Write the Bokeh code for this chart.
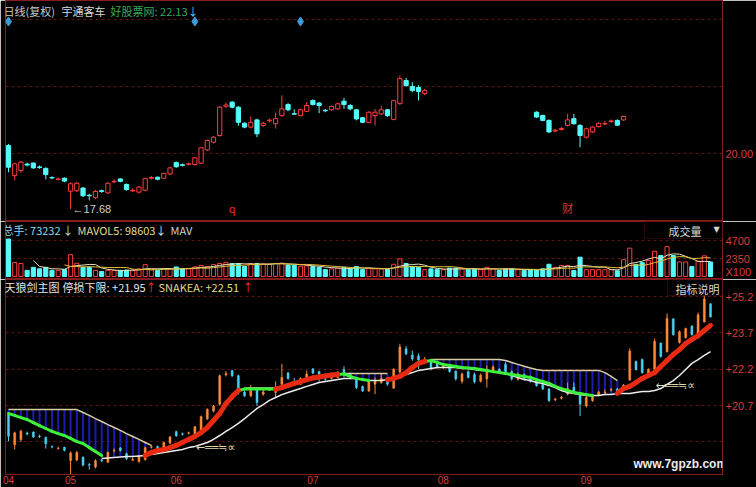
import pandas as pd
from bokeh.plotting import figure
from bokeh.layouts import column
from bokeh.models import (ColumnDataSource, Range1d, LinearAxis, FixedTicker,
                          CustomJSTickFormatter, Grid, Label, LabelSet, BoxAnnotation)
from bokeh.core.properties import value
from bokeh.embed import file_html
from bokeh.resources import INLINE

NaN = float("nan")

# ---------------- daily bars (宇通客车, 复权) ----------------
opens = [
    20.33, 19.08, 19.29, 19.56, 19.60, 19.44, 19.38, 19.00, 18.92, 18.97,
    18.43, 18.45, 18.56, 18.26, 18.16, 18.45, 18.36, 18.82, 18.94, 18.71,
    18.44, 18.39, 18.47, 18.97, 19.01, 18.97, 19.15, 19.62, 19.53, 19.55,
    19.54, 19.60, 20.15, 20.47, 20.75, 21.97, 22.14, 21.93, 21.26, 21.10,
    21.40, 21.17, 21.36, 21.24, 21.58, 22.04, 21.66, 21.58, 21.76, 22.21,
    22.10, 21.80, 21.82, 21.86, 22.18, 22.00, 21.82, 21.49, 21.30, 21.58,
    21.65, 21.82, 21.42, 22.08, 23.04, 22.79, 22.75, 22.50, 22.50, 22.42,
    22.26, 22.32, 22.12, 21.70, 22.10, 21.98, 21.70, 21.80, 22.10, 22.20,
    22.40, 22.10, 21.78, 21.98, 21.90, 21.72, 21.58, 21.38, 20.94, 21.00,
    21.17, 21.45, 21.17, 20.68, 20.90, 21.12, 21.23, 21.33, 21.38, 21.40,
    21.75, 22.52, 22.60, 21.98, 22.20, 23.28, 22.92, 24.28, 23.30, 23.50,
    23.98, 23.50, 24.15, 24.90]
highs = [
    20.40, 19.62, 19.70, 19.62, 19.63, 19.50, 19.42, 19.05, 19.00, 19.00,
    18.80, 18.82, 18.60, 18.32, 18.48, 18.50, 18.80, 18.92, 18.98, 18.75,
    18.55, 18.64, 19.00, 19.06, 19.04, 19.20, 19.45, 19.66, 19.58, 19.62,
    19.86, 20.28, 20.58, 20.72, 21.98, 22.12, 22.18, 21.98, 21.30, 21.54,
    21.45, 21.32, 21.45, 21.70, 22.42, 22.10, 21.84, 21.86, 22.14, 22.25,
    22.14, 21.85, 22.00, 22.12, 22.32, 22.06, 21.86, 21.52, 21.76, 21.86,
    22.00, 21.86, 22.24, 23.25, 23.15, 22.97, 22.85, 22.70, 22.56, 22.46,
    22.38, 22.36, 22.15, 22.06, 22.15, 22.06, 22.02, 22.35, 22.35, 22.23,
    22.48, 22.15, 22.06, 22.02, 21.94, 21.76, 21.62, 21.42, 21.02, 21.10,
    21.65, 21.65, 21.22, 21.08, 21.14, 21.30, 21.36, 21.42, 21.42, 21.58,
    23.06, 22.56, 22.64, 22.23, 23.47, 23.30, 24.50, 24.30, 23.80, 23.92,
    24.01, 24.54, 25.25, 24.92]
lows = [
    19.22, 18.88, 19.20, 19.46, 19.36, 19.36, 18.92, 18.93, 18.88, 18.80,
    17.68, 18.40, 18.18, 18.05, 18.10, 18.36, 18.32, 18.76, 18.80, 18.45,
    18.40, 18.33, 18.42, 18.92, 18.88, 18.92, 19.10, 19.40, 19.46, 19.50,
    19.50, 19.56, 20.10, 20.42, 20.70, 21.90, 21.88, 21.15, 21.05, 21.05,
    20.68, 21.10, 21.30, 21.04, 21.52, 21.76, 21.62, 21.55, 21.72, 22.00,
    21.68, 21.72, 21.78, 21.82, 21.86, 21.80, 21.38, 21.26, 21.26, 21.17,
    21.60, 21.52, 21.38, 22.02, 22.78, 22.55, 22.21, 22.42, 22.15, 22.22,
    22.22, 22.06, 21.73, 21.61, 21.82, 21.61, 21.65, 21.44, 22.06, 22.02,
    22.06, 21.73, 21.73, 21.73, 21.65, 21.48, 21.34, 20.85, 20.88, 20.95,
    21.12, 21.20, 20.26, 20.62, 20.85, 21.08, 21.18, 21.28, 21.14, 21.36,
    21.73, 22.15, 22.02, 21.94, 22.15, 22.68, 22.89, 23.59, 23.26, 23.47,
    23.59, 23.47, 24.13, 24.34]
closes = [
    19.43, 19.57, 19.64, 19.52, 19.40, 19.42, 19.12, 18.98, 18.94, 18.85,
    18.74, 18.76, 18.24, 18.24, 18.42, 18.42, 18.76, 18.84, 18.84, 18.50,
    18.47, 18.60, 18.95, 19.00, 18.93, 19.17, 19.40, 19.45, 19.51, 19.57,
    19.82, 20.24, 20.54, 20.68, 21.93, 22.02, 21.93, 21.30, 21.10, 21.30,
    20.82, 21.26, 21.39, 21.45, 21.86, 21.82, 21.64, 21.82, 22.00, 22.04,
    22.00, 21.78, 21.96, 22.07, 22.04, 21.86, 21.44, 21.30, 21.72, 21.72,
    21.82, 21.58, 22.20, 23.12, 22.83, 22.62, 22.58, 22.62, 22.25, 22.28,
    22.34, 22.10, 21.80, 22.00, 21.86, 21.68, 21.95, 22.20, 22.30, 22.05,
    22.10, 21.80, 22.00, 21.78, 21.70, 21.52, 21.38, 20.90, 20.97, 21.04,
    21.40, 21.24, 20.75, 21.03, 21.10, 21.26, 21.25, 21.36, 21.18, 21.54,
    22.95, 22.18, 22.05, 22.20, 23.35, 22.72, 24.30, 23.62, 23.75, 23.88,
    23.62, 24.45, 25.10, 24.36]
# volume, in units of 100 shares
volumes = [
    4900, 1830, 1700, 800, 1200, 1000, 1200, 800, 800, 900,
    2850, 1730, 1200, 1200, 800, 650, 800, 800, 800, 850,
    850, 1000, 1550, 850, 800, 1000, 1000, 1250, 1000, 1000,
    1250, 1450, 1300, 1550, 1700, 1850, 1700, 1700, 1300, 1700,
    1700, 1650, 1600, 1700, 1750, 1500, 1450, 1350, 1400, 1300,
    1200, 900, 1000, 1100, 1200, 1000, 1300, 900, 1100, 1000,
    950, 900, 1600, 2300, 1700, 1300, 1200, 900, 1000, 900,
    900, 1100, 1100, 1000, 900, 1000, 900, 1200, 1000, 800,
    1000, 1000, 900, 800, 850, 800, 1000, 1600, 1200, 1440,
    1440, 780, 2520, 900, 900, 900, 900, 900, 750, 2200,
    3700, 1580, 1800, 2100, 3300, 2740, 3900, 2740, 1900, 1900,
    1300, 2000, 2700, 1900]

# ---------------- 天狼剑 indicator lines ----------------
snake_line = [
    20.37, 20.29, 20.20, 20.12, 19.99, 19.87, 19.75, 19.63, 19.54, 19.46,
    19.34, 19.21, 19.13, 18.96, 18.80, 18.63, 18.53, 18.55, 18.57, 18.59,
    18.59, 18.61, 18.63, 18.76, 18.84, 18.88, 18.96, 19.05, 19.17, 19.30,
    19.42, 19.58, 19.79, 20.08, 20.37, 20.78, 21.07, 21.32, 21.38, 21.38,
    21.38, 21.38, 21.38, 21.38, 21.44, 21.53, 21.61, 21.69, 21.77, 21.84,
    21.88, 21.92, 21.96, 21.98, 22.00, 21.90, 21.82, 21.77, 21.73, 21.73,
    21.73, 21.77, 21.82, 21.90, 22.06, 22.27, 22.44, 22.52, 22.56, 22.48,
    22.39, 22.35, 22.31, 22.27, 22.25, 22.23, 22.19, 22.15, 22.10, 22.06,
    22.02, 21.98, 21.94, 21.90, 21.86, 21.77, 21.69, 21.61, 21.49, 21.40,
    21.32, 21.24, 21.20, 21.15, 21.11, 21.11, 21.15, 21.15, 21.20, 21.40,
    21.49, 21.65, 21.82, 21.94, 22.06, 22.31, 22.56, 22.81, 23.01, 23.26,
    23.43, 23.59, 23.80, 24.01]
# U = rising (red ribbon), D = falling (green), M = resting on the slow line
snake_phase = ("DDDDDDDDDDDDDDDD" "MMMMMMM" "UUUUUUUUUUUUUUU" "DDDDDD"
               "UUUUUUUUUU" "DDDDD" "MMM" "UUUUUU"
               "DDDDDDDDDDDDDDDDDDDDDDDDDDD" "MMMM" "UUUUUUUUUUUUUUU")
stop_upper = [
    20.53, 20.53, 20.53, 20.53, 20.53, 20.53, 20.53, 20.53, 20.53, 20.53,
    20.53, 20.53, 20.41, 20.29, 20.16, 20.04, 19.91, 19.79, 19.67, 19.54,
    19.42, 19.30, 19.17, 19.05, NaN, NaN, NaN, NaN, NaN, NaN,
    NaN, NaN, NaN, NaN, NaN, NaN, NaN, NaN, 21.42, 21.42,
    21.42, 21.42, 21.42, 21.42, NaN, NaN, NaN, NaN, NaN, NaN,
    NaN, NaN, NaN, NaN, 22.02, 22.02, 22.02, 22.02, 22.02, 22.02,
    22.02, 22.02, NaN, NaN, NaN, NaN, NaN, NaN, 22.60, 22.60,
    22.60, 22.60, 22.60, 22.60, 22.60, 22.60, 22.60, 22.60, 22.60, 22.60,
    22.56, 22.48, 22.40, 22.32, 22.25, 22.19, 22.15, 22.15, 22.15, 22.15,
    22.15, 22.15, 22.15, 22.15, 22.15, 22.15, 22.06, 21.90, 21.73, NaN,
    NaN, NaN, NaN, NaN, NaN, NaN, NaN, NaN, NaN, NaN,
    NaN, NaN, NaN, NaN]
slow_line = [
    NaN, NaN, NaN, NaN, NaN, NaN, NaN, NaN, NaN, NaN,
    NaN, NaN, NaN, NaN, NaN, 18.51, 18.53, 18.55, 18.57, 18.59,
    18.59, 18.61, 18.63, 18.68, 18.72, 18.76, 18.80, 18.84, 18.88, 18.96,
    19.01, 19.09, 19.17, 19.30, 19.46, 19.63, 19.79, 19.96, 20.16, 20.37,
    20.58, 20.74, 20.91, 21.03, 21.15, 21.24, 21.32, 21.40, 21.49, 21.57,
    21.65, 21.69, 21.73, 21.77, 21.82, 21.82, 21.82, 21.77, 21.73, 21.73,
    21.73, 21.77, 21.82, 21.90, 21.98, 22.06, 22.15, 22.19, 22.23, 22.27,
    22.27, 22.27, 22.27, 22.23, 22.23, 22.19, 22.15, 22.15, 22.10, 22.06,
    22.02, 21.94, 21.86, 21.77, 21.73, 21.65, 21.61, 21.53, 21.44, 21.32,
    21.24, 21.20, 21.15, 21.11, 21.11, 21.11, 21.15, 21.15, 21.20, 21.20,
    21.20, 21.24, 21.28, 21.28, 21.32, 21.40, 21.57, 21.73, 21.94, 22.19,
    22.44, 22.60, 22.77, 22.93]
signal_bars = [30, 104]
signal_levels = [18.96, 21.53]

# calendar / events
month_bars = [0, 10, 27, 49, 70, 93]
month_names = ["04", "05", "06", "07", "08", "09"]
info_bars = [0, 30, 47]
event_bars = [36, 90]
event_tags = ["q", "财"]
# bars drawn in the price pane
MAIN_RANGES = [(0, 67), (85, 99)]

n = len(closes)
assert all(len(a) == n for a in (opens, highs, lows, volumes, snake_line,
                                  snake_phase, stop_upper, slow_line))

# ---------------- styling ----------------
BG = "#000000"
FRAME = "#861c1c"
GRID_C = "#5c1414"
AX_TXT = "#d83c3c"
UP = "#ff3c3c"
DN = "#54fcfc"
STICK_UP = "#ff8a38"
STICK_DN = "#4ccff0"
CJK = "Noto Sans CJK SC"
LATIN = "Liberation Sans"

W = 756
LEFT = 5
RIGHT = 32
BAR_PX = 6.23
FRAME_W = W - LEFT - RIGHT
x_start = -3 / BAR_PX
x_range = Range1d(x_start, x_start + FRAME_W / BAR_PX)

MAIN_H, VOL_H, IND_H, IND_BOTTOM = 221, 58, 208, 13
MAIN_PX_PER_UNIT = 24.0
IND_PX_PER_UNIT = 24.2
main_y = Range1d(20.0 - (MAIN_H - 153) / MAIN_PX_PER_UNIT, 20.0 + 153 / MAIN_PX_PER_UNIT)
vol_y = Range1d(-390, 7180)
IND_FH = IND_H - IND_BOTTOM
# +20.7 sits 126 px below the top of the indicator pane
ind_y = Range1d(20.7 - (IND_FH - 126) / IND_PX_PER_UNIT, 20.7 + 126 / IND_PX_PER_UNIT)


def make_panel(height, y_range, bottom=0):
    p = figure(width=W, height=height, x_range=x_range, y_range=y_range,
               output_backend="svg", toolbar_location=None,
               x_axis_location=None, y_axis_location=None,
               background_fill_color=BG, border_fill_color=BG,
               outline_line_color=FRAME, outline_line_width=1,
               min_border_left=LEFT, min_border_right=RIGHT,
               min_border_top=0, min_border_bottom=bottom)
    p.xgrid.visible = False
    p.ygrid.visible = False
    return p


def right_axis(p, ticks, code):
    ax = LinearAxis(ticker=FixedTicker(ticks=ticks),
                    formatter=CustomJSTickFormatter(code=code),
                    axis_line_color=FRAME, major_tick_line_color=None,
                    minor_tick_line_color=None, major_tick_in=0, major_tick_out=0,
                    major_label_standoff=3, major_label_text_color=AX_TXT,
                    major_label_text_font=LATIN, major_label_text_font_size="11px")
    p.add_layout(ax, "right")


def hgrid(p, levels):
    p.add_layout(Grid(dimension=1, ticker=FixedTicker(ticks=levels),
                      grid_line_color=GRID_C, grid_line_dash="3 3", grid_line_width=1))


def put_text(p, top, frame_h, cx, cy, text, color, size="11px", font=CJK,
             style="normal", baseline="middle"):
    p.add_layout(Label(x=cx - LEFT, y=frame_h - (cy - top), x_units="screen",
                       y_units="screen", text=text, text_color=color, text_font=font,
                       text_font_size=size, text_font_style=style,
                       text_baseline=baseline, text_align="left"))


def ohlc_source(ids):
    return ColumnDataSource(dict(
        x=ids,
        h=[highs[i] for i in ids], l=[lows[i] for i in ids],
        top=[max(opens[i], closes[i]) for i in ids],
        bot=[min(opens[i], closes[i]) for i in ids],
        vol=[volumes[i] for i in ids]))


rising = [closes[i] >= opens[i] for i in range(n)]

# ---------------- price pane ----------------
main = make_panel(MAIN_H, main_y)
hgrid(main, [20.0, 22.79, 25.58])
right_axis(main, [20.0], "return tick.toFixed(2)")

main_idx = [i for a, b in MAIN_RANGES for i in range(a, b + 1)]
for ids, fill, line in (([i for i in main_idx if rising[i]], BG, UP),
                        ([i for i in main_idx if not rising[i]], DN, DN)):
    src = ohlc_source(ids)
    main.segment(x0="x", y0="l", x1="x", y1="h", source=src, line_color=line, line_width=1)
    main.vbar(x="x", width=0.68, top="top", bottom="bot", source=src,
              fill_color=fill, line_color=line, line_width=1)

low_i = min(range(n), key=lambda i: lows[i])
main.text(x=[low_i], y=[lows[low_i]], text=[f"←{lows[low_i]:.2f}"], x_offset=2,
          text_baseline="middle", text_color="#d0d0d0",
          text_font=value(LATIN), text_font_size="11px")

main.scatter(x=info_bars, y=[main_y.end - 21 / MAIN_PX_PER_UNIT] * len(info_bars),
             marker="diamond", size=9, fill_color="#3d9bd8", line_color="#3d9bd8")
main.add_layout(LabelSet(source=ColumnDataSource(dict(x=event_bars, t=event_tags)),
                         x="x", y=6, y_units="screen", text="t", text_align="center",
                         text_baseline="bottom", text_color="#e03030",
                         text_font=value(CJK), text_font_size="11px"))

put_text(main, 0, MAIN_H, 3, 10, "日线(复权)", "#c8c8c8")
put_text(main, 0, MAIN_H, 61, 10, "宇通客车", "#d8d8d8")
put_text(main, 0, MAIN_H, 110, 10, "好股票网: 22.13", "#3aa75c")
put_text(main, 0, MAIN_H, 187, 10, "↓", "#5ad4f0")

# ---------------- volume pane ----------------
vol = make_panel(VOL_H, vol_y)
hgrid(vol, [2350, 4700])
right_axis(vol, [650, 2350, 4700], "return tick < 1000 ? 'X100' : tick.toFixed(0)")
for ids, fill, line in (([i for i in range(n) if rising[i]], BG, UP),
                        ([i for i in range(n) if not rising[i]], DN, DN)):
    src = ohlc_source(ids)
    vol.vbar(x="x", width=0.66, top="vol", bottom=0, source=src,
             fill_color=fill, line_color=line, line_width=1)

vs = pd.Series(volumes, dtype=float)
vol.line(list(range(n)), vs.rolling(5).mean().tolist(), line_color="#e8dfb8", line_width=1)
vol.line(list(range(n)), vs.rolling(10).mean().tolist(), line_color="#e0c038", line_width=1)

put_text(vol, 221, VOL_H, 2, 229, "总手: 73232", "#8fd8ee")
put_text(vol, 221, VOL_H, 62, 229, "↓", "#a8ecff")
put_text(vol, 221, VOL_H, 77, 229, "MAVOL5: 98603", "#e2d890")
put_text(vol, 221, VOL_H, 155, 229, "↓", "#d0f2ff")
put_text(vol, 221, VOL_H, 170, 229, "MAV", "#d0d0d0")
vol.add_layout(BoxAnnotation(left=644 - LEFT, bottom=VOL_H - (238 - 221),
                             left_units="screen", bottom_units="screen",
                             fill_color=BG, fill_alpha=1.0, line_color=FRAME, line_width=1))
put_text(vol, 221, VOL_H, 668, 230, "成交量", "#d8d8d8")
put_text(vol, 221, VOL_H, 713, 229, "▼", "#d8d8d8", size="8px", font="DejaVu Sans")

# ---------------- indicator pane ----------------
ind = make_panel(IND_H, ind_y, bottom=IND_BOTTOM)
hgrid(ind, [19.2, 20.7, 22.2, 23.7, 25.2])
right_axis(ind, [20.7, 22.2, 23.7, 25.2], "return '+' + tick.toFixed(1)")

# month axis along the bottom of the indicator pane
month_axis = LinearAxis(ticker=FixedTicker(ticks=month_bars),
                        major_label_overrides={b: m for b, m in zip(month_bars, month_names)},
                        axis_line_color=FRAME, major_tick_line_color=None,
                        minor_tick_line_color=None, major_tick_in=0, major_tick_out=0,
                        major_label_standoff=1, major_label_text_color=AX_TXT,
                        major_label_text_align="left",
                        major_label_text_font=LATIN, major_label_text_font_size="10px")
ind.add_layout(month_axis, "below")

# blue hatching between the stop line and the snake while falling
hx = [i for i in range(n) if snake_phase[i] != "U" and stop_upper[i] == stop_upper[i]]
ind.segment(x0=hx, y0=[snake_line[i] for i in hx], x1=hx, y1=[stop_upper[i] for i in hx],
            line_color="#1c1cb0", line_width=2)

# thin candle sticks
for ids, col in (([i for i in range(n) if rising[i]], STICK_UP),
                 ([i for i in range(n) if not rising[i]], STICK_DN)):
    src = ohlc_source(ids)
    ind.segment(x0="x", y0="l", x1="x", y1="h", source=src, line_color=col, line_width=1)
    ind.vbar(x="x", width=0.32, top="top", bottom="bot", source=src,
             fill_color=col, line_color=col, line_width=0.5)

ind.line(list(range(n)), stop_upper, line_color="#d8cca0", line_width=1.5)
ind.line(list(range(n)), slow_line, line_color="#ececec", line_width=1.5)

seg = {"U": ([], [], [], []), "D": ([], [], [], [])}
for i in range(n - 1):
    ph = snake_phase[i + 1]
    if ph in seg:
        a, b, c, d = seg[ph]
        a.append(i); b.append(snake_line[i]); c.append(i + 1); d.append(snake_line[i + 1])
g = seg["D"]
ind.segment(x0=g[0], y0=g[1], x1=g[2], y1=g[3], line_color="#3cf03c", line_width=3,
            line_cap="round")
r = seg["U"]
ind.segment(x0=r[0], y0=r[1], x1=r[2], y1=r[3], line_color="#e82a12", line_width=5,
            line_cap="round")

ind.text(x=signal_bars, y=signal_levels, text=["←══≒∝"] * len(signal_bars), x_offset=1,
         text_baseline="middle", text_color="#e0d6b0",
         text_font=value("DejaVu Sans"), text_font_size="11px")

put_text(ind, 279, IND_FH, 4, 286, "天狼剑主图", "#e4e4e4")
put_text(ind, 279, IND_FH, 62, 286, "停损下限: +21.95", "#e4e4e4")
put_text(ind, 279, IND_FH, 145, 286, "↑", "#ff3030")
put_text(ind, 279, IND_FH, 158, 286, "SNAKEA: +22.51", "#e2d890")
put_text(ind, 279, IND_FH, 242, 286, "↑", "#ff3030")
ind.add_layout(BoxAnnotation(left=667 - LEFT, bottom=IND_FH - (295 - 279),
                             left_units="screen", bottom_units="screen",
                             fill_color=BG, fill_alpha=1.0, line_color=FRAME, line_width=1))
put_text(ind, 279, IND_FH, 675, 288, "指标说明", "#d8d8d8")
put_text(ind, 279, IND_FH, 633, 463, "www.7gpzb.com", "#ececec", size="12px",
         font=LATIN, style="bold")

layout = column(main, vol, ind, spacing=0)
open("out.html", "w").write(file_html(layout, INLINE))
